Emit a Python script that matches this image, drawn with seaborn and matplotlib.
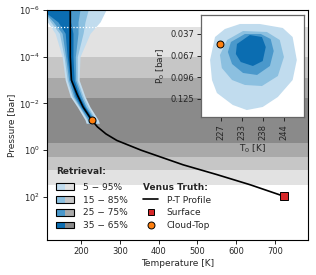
import numpy as np
import matplotlib
matplotlib.use("Agg")
import matplotlib.pyplot as plt
import seaborn as sns
import pandas as pd
from matplotlib.patches import Rectangle
from matplotlib.lines import Line2D
from matplotlib.legend_handler import HandlerBase

# ---------------- data ----------------
band_labels = ["5 \u2212 95%", "15 \u2212 85%", "25 \u2212 75%", "35 \u2212 65%"]
band_top_p = [5.4e-6, 1.0e-4, 8.1e-4, 5.8e-3]       # bar
band_bot_p = [30.0, 6.9, 1.9, 0.48]                 # bar

truth_p = [1e-6, 1e-5, 1e-4, 1e-3, 4.2e-3, 1.4e-2, 5.1e-2, 0.1, 0.2, 0.38,
           1.0, 4.2, 11, 30, 92]
truth_t = [172, 172, 172, 175, 190, 205, 227, 242, 264, 292,
           355, 463, 550, 636, 722]

surface_t, surface_p = [722], [92]
cloud_t, cloud_p = [227], [0.051]

ret_p = [1e-6, 3.2e-6, 1e-5, 1e-4, 1e-3, 5e-3, 1.4e-2, 5e-2, 7e-2]
t05 = [100, 113, 133, 151, 159, 172, 190, 210, 213]
t15 = [100, 121, 144, 156, 164, 177, 195, 215, 218]
t25 = [100, 128, 151, 160, 168, 181, 197, 218, 221]
t35 = [100, 140, 159, 164, 172, 185, 200, 223, 225]
t65 = [173, 173, 179, 179, 182, 196, 210, 231, 233]
t75 = [197, 192, 192, 185, 186, 201, 213, 235, 237]
t85 = [218, 210, 205, 190, 190, 205, 218, 238, 241]
t95 = [264, 249, 223, 197, 195, 210, 223, 244, 247]

# inset (T0, P0) credible-region outlines
c95_t = [232.2, 237.4, 243.5, 246.1, 247.2, 246.1, 242.2, 238.2, 234.0, 230.3, 226.1, 224.8, 224.3, 225.6, 228.2]
c95_p = [0.0238, 0.0238, 0.0292, 0.0414, 0.0724, 0.0994, 0.1223, 0.1358, 0.1399, 0.1331, 0.1169, 0.0994, 0.0724, 0.0414, 0.0306]
c85_t = [233.0, 239.3, 242.7, 243.8, 242.2, 238.0, 233.5, 230.1, 227.4, 226.9, 228.8]
c85_p = [0.0333, 0.0346, 0.0454, 0.0684, 0.0940, 0.1075, 0.1061, 0.0994, 0.0832, 0.0657, 0.0454]
c75_t = [233.5, 237.7, 240.3, 241.1, 240.1, 236.7, 233.0, 230.1, 229.0, 229.8]
c75_p = [0.0373, 0.0373, 0.0441, 0.0603, 0.0805, 0.0926, 0.0899, 0.0778, 0.0616, 0.0481]
c65_t = [234.8, 238.0, 239.0, 238.2, 235.6, 232.4, 231.1, 231.4]
c65_p = [0.0387, 0.0414, 0.0549, 0.0738, 0.0805, 0.0751, 0.0643, 0.0508]

inset_xtick_labels = ["227", "233", "238", "244"]
inset_ytick_labels = ["0.037", "0.067", "0.096", "0.125"]

# ---------------- style ----------------
sns.set_theme(style="ticks")
plt.rcParams["font.family"] = ["DejaVu Sans"]
plt.rcParams["axes.linewidth"] = 0.8

blues = ["#c1dcee", "#8cc0e0", "#4a98cb", "#0b6db1"]
grays = ["#e2e2e2", "#c6c6c6", "#a9a9a9", "#8a8a8a"]

W, H = 316, 275
fig = plt.figure(figsize=(W / 100, H / 100), dpi=100)
ax = fig.add_axes([47 / W, 1 - 240 / H, 261 / W, 230 / H])

# gray bands
for top, bot, g in zip(band_top_p, band_bot_p, grays):
    ax.axhspan(top, bot, color=g, lw=0, zorder=0)

# retrieval envelopes
lows = [t05, t15, t25, t35]
highs = [t95, t85, t75, t65]
for lo, hi, b in zip(lows, highs, blues):
    ax.fill_betweenx(ret_p, lo, hi, color=b, lw=0, zorder=1)

# faint dotted seam at the top band edge
seam_lo = np.interp(np.log10(band_top_p[0]), np.log10(ret_p), t05)
seam_hi = np.interp(np.log10(band_top_p[0]), np.log10(ret_p), t95)
ax.plot([seam_lo, seam_hi], [band_top_p[0]] * 2, color="white", lw=0.9,
        ls=(0, (1, 1.5)), zorder=1.5)

# truth profile
df = pd.DataFrame({"T": truth_t, "P": truth_p})
sns.lineplot(data=df, x="T", y="P", sort=False, estimator=None, color="black",
             lw=1.2, ax=ax, zorder=3)
ax.plot(surface_t, surface_p, "s", color="#d62728", mec="black", mew=0.7, ms=5.5, zorder=4)
ax.plot(cloud_t, cloud_p, "o", color="#ff7f0e", mec="black", mew=0.7, ms=5, zorder=4)

ax.set_yscale("log")
ax.set_ylim(10 ** 3.84, 1e-6)
ax.set_xlim(112, 785)
ax.set_yticks([1e-6, 1e-4, 1e-2, 1e0, 1e2])
ax.yaxis.set_minor_locator(matplotlib.ticker.NullLocator())
ax.set_xticks([200, 300, 400, 500, 600, 700])
ax.tick_params(labelsize=6, length=3, width=0.7, pad=2)
ax.set_xlabel("Temperature [K]", fontsize=6.5, labelpad=2)
ax.set_ylabel("Pressure [bar]", fontsize=6.5, labelpad=2)
for s in ax.spines.values():
    s.set_visible(True)
    s.set_color("black")


# legends
class DualHandler(HandlerBase):
    def create_artists(self, legend, orig_handle, xdescent, ydescent, width,
                       height, fontsize, trans):
        b, g = orig_handle
        x0, y0 = -xdescent, -ydescent
        r1 = Rectangle((x0, y0), width / 2, height, facecolor=b.get_facecolor(),
                       edgecolor="none", transform=trans)
        r2 = Rectangle((x0 + width / 2, y0), width / 2, height,
                       facecolor=g.get_facecolor(), edgecolor="none", transform=trans)
        r3 = Rectangle((x0, y0), width, height, fill=False, edgecolor="black",
                       lw=0.8, transform=trans)
        return [r1, r2, r3]


handles1 = [(Rectangle((0, 0), 1, 1, fc=b), Rectangle((0, 0), 1, 1, fc=g))
            for b, g in zip(blues, grays)]
leg1 = ax.legend(handles1, band_labels, handler_map={tuple: DualHandler()},
                 title="Retrieval:", loc="lower left", bbox_to_anchor=(0.01, 0.015),
                 frameon=False, fontsize=6.5, title_fontproperties={"weight": "bold", "size": 6.5},
                 alignment="left", handlelength=2.0, handleheight=0.75,
                 handletextpad=1.0, labelspacing=0.42, borderaxespad=0.3)
leg1._legend_box.sep = 5.2
ax.add_artist(leg1)

handles2 = [Line2D([], [], color="black", lw=1.2),
            Line2D([], [], ls="", marker="s", color="#d62728", mec="black", mew=0.7, ms=5),
            Line2D([], [], ls="", marker="o", color="#ff7f0e", mec="black", mew=0.7, ms=5)]
leg2 = ax.legend(handles2, ["P-T Profile", "Surface", "Cloud-Top"],
                 title="Venus Truth:", loc="lower left", bbox_to_anchor=(0.345, 0.015),
                 frameon=False, fontsize=6.5, title_fontproperties={"weight": "bold", "size": 6.5},
                 alignment="left", handlelength=1.6, handletextpad=1.0,
                 labelspacing=0.42, borderaxespad=0.3)

# inset
axi = fig.add_axes([201 / W, 1 - 117 / H, 103 / W, 102 / H])
axi.set_facecolor("white")
for ct, cp, b in zip([c95_t, c85_t, c75_t, c65_t], [c95_p, c85_p, c75_p, c65_p], blues):
    axi.fill(ct, cp, color=b, lw=0, zorder=1)
axi.plot(cloud_t, cloud_p, "o", color="#ff7f0e", mec="black", mew=0.7, ms=5, zorder=3)
axi.set_xlim(221.9, 249.1)
axi.set_ylim(0.1493, 0.0117)
axi.set_xticks(np.linspace(227.2, 243.8, 4))
axi.set_xticklabels(inset_xtick_labels, rotation=90)
axi.set_yticks(np.linspace(0.0373, 0.1250, 4))
axi.set_yticklabels(inset_ytick_labels)
axi.tick_params(labelsize=6, length=3, width=0.7, pad=2)
axi.set_xlabel("T$_0$ [K]", fontsize=6.5, labelpad=2)
axi.set_ylabel("P$_0$ [bar]", fontsize=6.5, labelpad=2)
for s in axi.spines.values():
    s.set_color("#666666")
    s.set_linewidth(0.9)

fig.savefig("out.png", dpi=100)
